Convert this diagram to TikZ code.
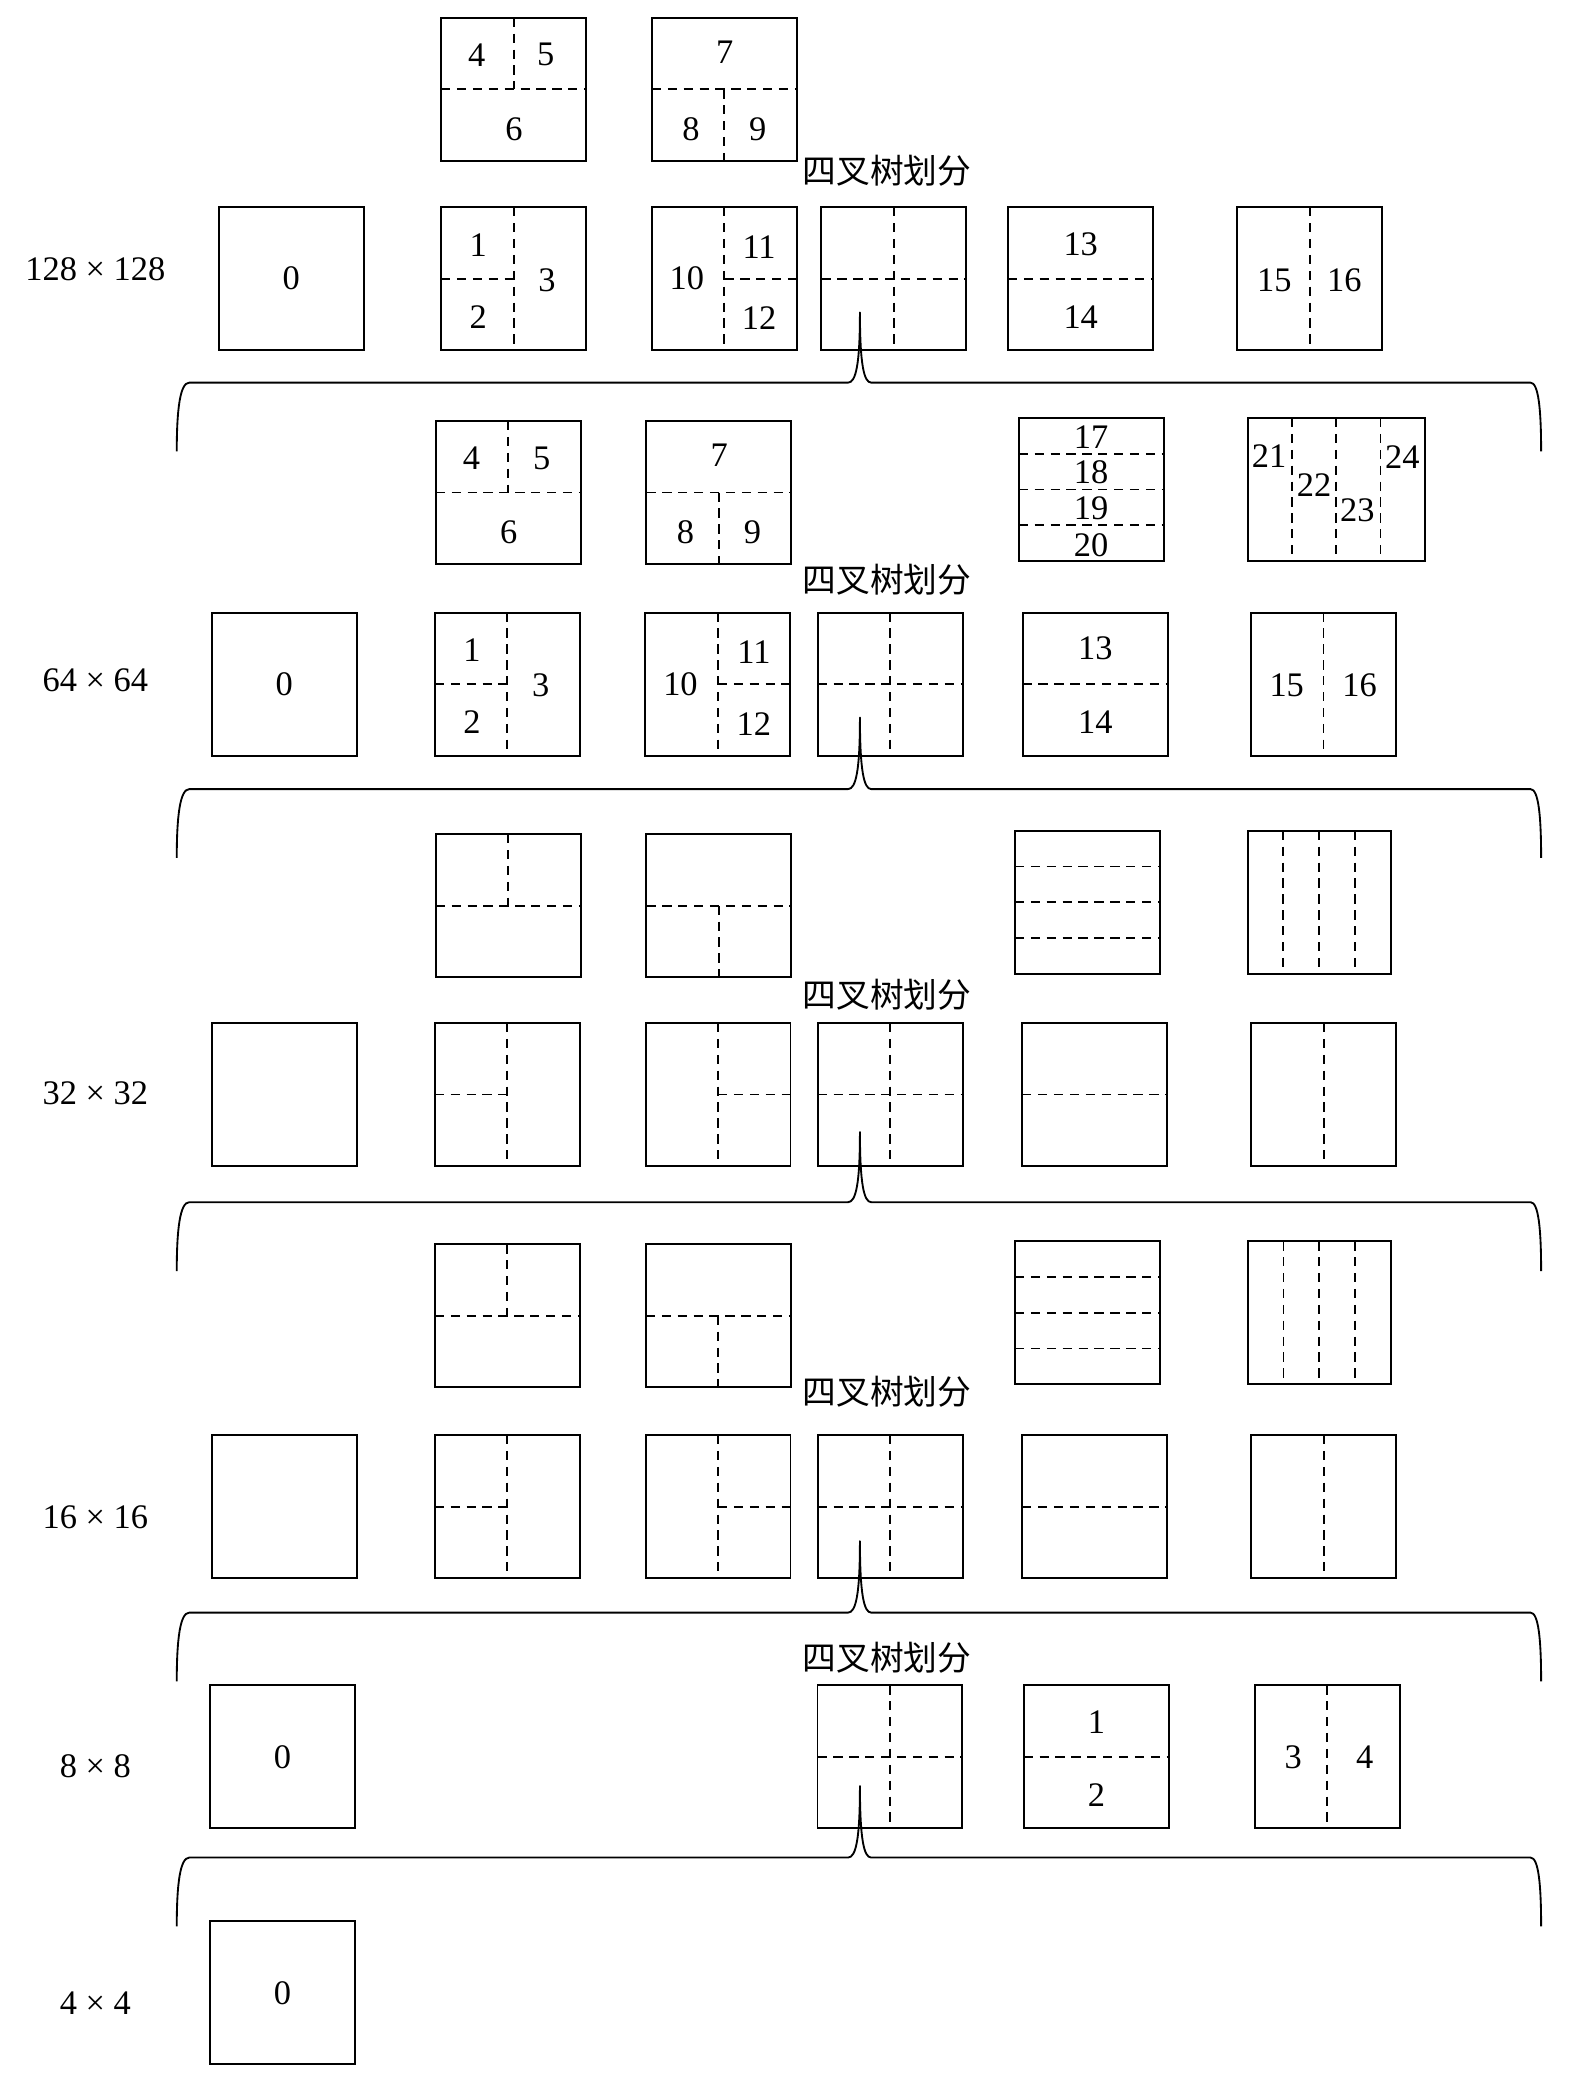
\documentclass[tikz,border=0pt]{standalone}
\usepackage{fontspec}
\setmainfont{Liberation Serif}
\newfontfamily\cjkfont{Noto Sans CJK SC}
\usetikzlibrary{calc}
\tikzset{
  blk/.style={draw, line width=1.5pt, minimum width=109.5pt, minimum height=108pt, inner sep=0pt, outer sep=0pt, font=\fontsize{26pt}{30pt}\selectfont},
  dsh/.style={line width=1.4pt, dash pattern=on 7pt off 5pt},
  num/.style={inner sep=0pt, font=\fontsize{26pt}{30pt}\selectfont},
  lvl/.style={inner sep=0pt, font=\fontsize{26pt}{30pt}\selectfont},
  qt/.style={inner sep=0pt, font=\cjkfont\fontsize{25.5pt}{30pt}\selectfont},
  brc/.style={line width=1.4pt, line join=round}
}
\newcommand\qdV[1]{\draw[dsh] (#1.north) -- (#1.south);}
\newcommand\qdH[1]{\draw[dsh] (#1.west) -- (#1.east);}
\newcommand\qdVt[1]{\draw[dsh] (#1.north) -- (#1.center);}
\newcommand\qdVb[1]{\draw[dsh] (#1.center) -- (#1.south);}
\newcommand\qdHl[1]{\draw[dsh] (#1.west) -- (#1.center);}
\newcommand\qdHr[1]{\draw[dsh] (#1.center) -- (#1.east);}
\newcommand\qdHq[1]{\foreach \f in {0.25,0.5,0.75}{\draw[dsh] ($(#1.north west)!\f!(#1.south west)$) -- ($(#1.north east)!\f!(#1.south east)$);}}
\newcommand\qdVq[1]{\foreach \f in {0.25,0.5,0.75}{\draw[dsh] ($(#1.north west)!\f!(#1.north east)$) -- ($(#1.south west)!\f!(#1.south east)$);}}
\newcommand\qlb[4]{\node[num] (#1-#4) at ($(#1.north west)+(#2,#3)$) {#4};}
% brace: #1 horizontal y, #2 tip y, #3 end y
\newcommand\qbrace[3]{\draw[brc] (133.5,#3) .. controls (133.5,#1+20) and (136,#1) .. (143,#1) -- (640.5,#1)
  .. controls (646.5,#1) and (649.5,#1-14) .. (649.5,#2)
  .. controls (649.5,#1-14) and (652.5,#1) .. (658,#1) -- (1156,#1)
  .. controls (1162,#1) and (1164,#1+20) .. (1164,#3);}
\begin{document}
\begin{tikzpicture}[x=1pt,y=-1pt]
\fill[white] (0,0) rectangle (1205,1568);
\useasboundingbox (0,0) rectangle (1205,1568);

% ================= 128 x 128 =================
\node[lvl] (l128) at (72,203) {128 × 128};
\node[blk] (t1a) at (387.9,67.4) {};
\node[blk] (t1b) at (547.1,67.4) {};
\node[qt] (q1) at (670,129) {四叉树划分};
\node[blk] (b1z) at (219.9,210.5) {0};
\node[blk] (b1a) at (387.9,210.5) {};
\node[blk] (b1b) at (547.1,210.5) {};
\node[blk] (b1q) at (675.2,210.5) {};
\node[blk] (b1c) at (816,210.5) {};
\node[blk] (b1d) at (989.2,210.5) {};
\qdH{t1a}\qdVt{t1a}
\qlb{t1a}{27}{28}{4}\qlb{t1a}{79}{28}{5}\qlb{t1a}{55}{84}{6}
\qdH{t1b}\qdVb{t1b}
\qlb{t1b}{55}{26}{7}\qlb{t1b}{29.5}{84}{8}\qlb{t1b}{80}{84}{9}
\qdV{b1a}\qdHl{b1a}
\qlb{b1a}{28}{29}{1}\qlb{b1a}{28}{83}{2}\qlb{b1a}{80}{55}{3}
\qdV{b1b}\qdHr{b1b}
\qlb{b1b}{26.5}{54}{10}\qlb{b1b}{81}{30}{11}\qlb{b1b}{81}{84}{12}
\qdV{b1q}\qdH{b1q}
\qdH{b1c}
\qlb{b1c}{55}{28}{13}\qlb{b1c}{55}{83}{14}
\qdV{b1d}
\qlb{b1d}{28}{55}{15}\qlb{b1d}{81}{55}{16}
\qbrace{289}{236}{341}

% ================= 64 x 64 =================
\node[lvl] (l64) at (72,514) {64 × 64};
\node[blk] (t2a) at (383.9,372) {};
\node[blk] (t2b) at (543,372) {};
\node[blk] (t2c) at (824.2,369.7) {};
\node[blk, minimum width=133.5pt] (t2d) at (1009.35,369.7) {};
\node[qt] (q2) at (670,438) {四叉树划分};
\node[blk] (b2z) at (214.6,516.7) {0};
\node[blk] (b2a) at (383.2,516.7) {};
\node[blk] (b2b) at (542.2,516.7) {};
\node[blk] (b2q) at (672.3,516.7) {};
\node[blk] (b2c) at (827.1,516.7) {};
\node[blk] (b2d) at (999.6,516.7) {};
\qdH{t2a}\qdVt{t2a}
\qlb{t2a}{27}{28}{4}\qlb{t2a}{80}{28}{5}\qlb{t2a}{55}{84}{6}
\qdH{t2b}\qdVb{t2b}
\qlb{t2b}{55}{26}{7}\qlb{t2b}{29.5}{84}{8}\qlb{t2b}{80}{84}{9}
\qdHq{t2c}
\qlb{t2c}{54.7}{14.4}{17}\qlb{t2c}{54.7}{41.3}{18}\qlb{t2c}{54.7}{68.5}{19}\qlb{t2c}{54.7}{95.8}{20}
\qdVq{t2d}
\qlb{t2d}{16}{28.5}{21}\qlb{t2d}{50}{51}{22}\qlb{t2d}{82.6}{70}{23}\qlb{t2d}{116.6}{29.5}{24}
\qdV{b2a}\qdHl{b2a}
\qlb{b2a}{28}{28}{1}\qlb{b2a}{28}{83}{2}\qlb{b2a}{80}{55}{3}
\qdV{b2b}\qdHr{b2b}
\qlb{b2b}{26.5}{54}{10}\qlb{b2b}{82}{30}{11}\qlb{b2b}{82}{84}{12}
\qdV{b2q}\qdH{b2q}
\qdH{b2c}
\qlb{b2c}{55}{27}{13}\qlb{b2c}{55}{83}{14}
\qdV{b2d}
\qlb{b2d}{27}{55}{15}\qlb{b2d}{82}{55}{16}
\qbrace{596}{542}{648}

% ================= 32 x 32 =================
\node[lvl] (l32) at (72,826) {32 × 32};
\node[blk] (t3a) at (383.9,684) {};
\node[blk] (t3b) at (543,684) {};
\node[blk] (t3c) at (821.3,681.5) {};
\node[blk, minimum width=108pt] (t3d) at (996.3,681.5) {};
\node[qt] (q3) at (670,751) {四叉树划分};
\node[blk] (b3z) at (214.6,826.7) {};
\node[blk] (b3a) at (383.1,826.7) {};
\node[blk] (b3b) at (542.3,826.7) {};
\node[blk] (b3q) at (672.3,826.7) {};
\node[blk] (b3c) at (826.8,826.7) {};
\node[blk] (b3d) at (999.7,826.7) {};
\qdH{t3a}\qdVt{t3a}
\qdH{t3b}\qdVb{t3b}
\qdHq{t3c}
\qdVq{t3d}
\qdV{b3a}\qdHl{b3a}
\qdV{b3b}\qdHr{b3b}
\qdV{b3q}\qdH{b3q}
\qdH{b3c}
\qdV{b3d}
\qbrace{908}{855}{960}

% ================= 16 x 16 =================
\node[lvl] (l16) at (72,1146) {16 × 16};
\node[blk] (t4a) at (383.2,993.8) {};
\node[blk] (t4b) at (542.6,993.8) {};
\node[blk] (t4c) at (821.4,991.5) {};
\node[blk, minimum width=108pt] (t4d) at (996.4,991.5) {};
\node[qt] (q4) at (670,1051) {四叉树划分};
\node[blk] (b4z) at (214.6,1137.9) {};
\node[blk] (b4a) at (383.1,1137.9) {};
\node[blk] (b4b) at (542.3,1137.9) {};
\node[blk] (b4q) at (672.3,1137.9) {};
\node[blk] (b4c) at (826.8,1137.9) {};
\node[blk] (b4d) at (999.7,1137.9) {};
\qdH{t4a}\qdVt{t4a}
\qdH{t4b}\qdVb{t4b}
\qdHq{t4c}
\qdVq{t4d}
\qdV{b4a}\qdHl{b4a}
\qdV{b4b}\qdHr{b4b}
\qdV{b4q}\qdH{b4q}
\qdH{b4c}
\qdV{b4d}
\qbrace{1218}{1164}{1270}

% ================= 8 x 8 =================
\node[lvl] (l8) at (72,1334) {8 × 8};
\node[qt] (q5) at (670,1252) {四叉树划分};
\node[blk] (b5z) at (213.4,1326.9) {0};
\node[blk] (b5q) at (672.2,1326.9) {};
\node[blk] (b5c) at (827.9,1326.9) {};
\node[blk] (b5d) at (1002.5,1326.9) {};
\qdV{b5q}\qdH{b5q}
\qdH{b5c}
\qlb{b5c}{55}{28}{1}\qlb{b5c}{55}{83}{2}
\qdV{b5d}
\qlb{b5d}{29}{54}{3}\qlb{b5d}{83}{54}{4}
\qbrace{1403}{1349}{1455}

% ================= 4 x 4 =================
\node[lvl] (l4) at (72,1513) {4 × 4};
\node[blk] (b6z) at (213.4,1505.2) {0};
\end{tikzpicture}
\end{document}
